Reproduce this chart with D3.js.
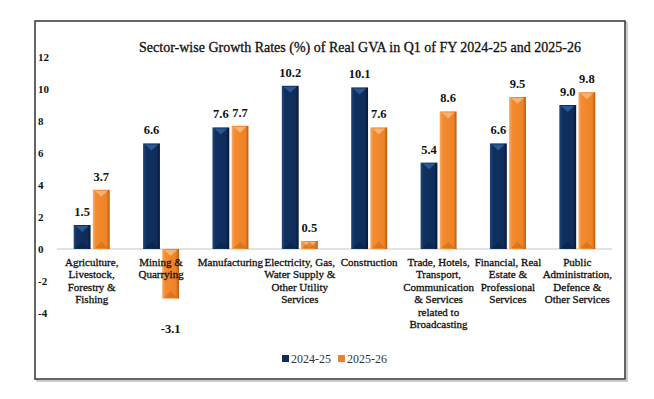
<!DOCTYPE html>
<html>
<head>
<meta charset="utf-8">
<script src="https://cdn.jsdelivr.net/npm/d3@7"></script>
<style>
  body { margin: 0; background: #fff; }
  svg text { font-family: "Liberation Serif", "DejaVu Serif", serif !important; fill: #111; }
</style>
</head>
<body>
<div class="board"></div>
<script>
// sector-wise GVA growth, Q1 FY 2024-25 vs 2025-26

var width = 654;
var height = 399;

// data
var categories = [
  ['Agriculture,', 'Livestock,', 'Forestry &', 'Fishing'],
  ['Mining &', 'Quarrying'],
  ['Manufacturing'],
  ['Electricity, Gas,', 'Water Supply &', 'Other Utility', 'Services'],
  ['Construction'],
  ['Trade, Hotels,', 'Transport,', 'Communication', '& Services', 'related to', 'Broadcasting'],
  ['Financial, Real', 'Estate &', 'Professional', 'Services'],
  ['Public', 'Administration,', 'Defence &', 'Other Services']
];
var series = ['2024-25', '2025-26'];
var fy2425 = [1.5, 6.6, 7.6, 10.2, 10.1, 5.4, 6.6, 9.0];
var fy2526 = [3.7, -3.1, 7.7, 0.5, 7.6, 8.6, 9.5, 9.8];
var yTicks = [-4, -2, 0, 2, 4, 6, 8, 10, 12];

var svg = d3.select('.board').append('svg')
  .attr('width', width)
  .attr('height', height);

var defs = svg.append('defs');

// bevel-ish gradients for the bars
var grads = [
  { id: 'gBlue', stops: ['#24497f', '#10305f', '#0f2d5b', '#061530'] },
  { id: 'gOrange', stops: ['#fbab62', '#f38b30', '#ee8226', '#b35a10'] }
];
grads.forEach(function(g) {
  var lg = defs.append('linearGradient').attr('id', g.id)
    .attr('x1', '0%').attr('x2', '100%').attr('y1', '0%').attr('y2', '0%');
  [0, 0.18, 0.82, 1].forEach(function(o, i) {
    lg.append('stop').attr('offset', o).attr('stop-color', g.stops[i]);
  });
});

// chart frame with a light shadow on right / bottom
svg.append('rect')
  .attr('x', 37).attr('y', 23).attr('width', 590).attr('height', 358)
  .attr('fill', 'none').attr('stroke', '#bdbdbd').attr('stroke-width', 1.5);
svg.append('rect')
  .attr('x', 35).attr('y', 21).attr('width', 590).attr('height', 358)
  .attr('fill', '#fff').attr('stroke', '#333').attr('stroke-width', 1.5);

// title
svg.append('text')
  .attr('x', 360).attr('y', 52)
  .attr('text-anchor', 'middle')
  .style('font-size', '14px')
  .style('stroke', '#111').style('stroke-width', 0.3)
  .text('Sector-wise Growth Rates (%) of Real GVA in Q1 of FY 2024-25 and 2025-26');

var x0 = d3.scaleBand()
  .domain(d3.range(categories.length))
  .range([57, 612]);

var x1 = d3.scaleBand()
  .domain(series)
  .range([x0.bandwidth() / 2 - 18, x0.bandwidth() / 2 + 18])
  .paddingInner(0.12);

var y = d3.scaleLinear()
  .domain([-4, 12])
  .range([313, 57]);

// y axis: labels only, no line; plain hyphen for negatives
var yAxis = d3.axisLeft(y).tickValues(yTicks).tickSize(0).tickPadding(0)
  .tickFormat(function(d) { return String(d); });
var yg = svg.append('g')
  .attr('transform', 'translate(38,0)')
  .call(yAxis);
yg.select('.domain').remove();
yg.selectAll('text')
  .attr('text-anchor', 'start')
  .attr('x', 0)
  .style('font-size', '11px')
  .style('font-weight', 'bold');

// zero line
svg.append('line')
  .attr('x1', 57).attr('x2', 612)
  .attr('y1', y(0)).attr('y2', y(0))
  .attr('stroke', '#d9d9d9').attr('stroke-width', 1.5);

var rows = categories.map(function(c, i) {
  return { i: i, values: [
    { s: series[0], v: fy2425[i], fill: 'url(#gBlue)', tip: '#3566a8', base: '#0a2043' },
    { s: series[1], v: fy2526[i], fill: 'url(#gOrange)', tip: '#fcc088', base: '#c96a18' }
  ] };
});

var groups = svg.selectAll('g.group')
  .data(rows)
  .enter().append('g')
  .attr('class', 'group')
  .attr('transform', function(d) { return 'translate(' + x0(d.i) + ',0)'; });

var bars = groups.selectAll('g.bar')
  .data(function(d) { return d.values; })
  .enter().append('g')
  .attr('class', 'bar');

bars.append('rect')
  .attr('x', function(d) { return x1(d.s); })
  .attr('y', function(d) { return y(Math.max(0, d.v)); })
  .attr('width', x1.bandwidth())
  .attr('height', function(d) { return Math.abs(y(d.v) - y(0)); })
  .attr('fill', function(d) { return d.fill; });

// little bevel triangles at the ends of each bar
bars.append('path')
  .attr('d', function(d) {
    var l = x1(d.s) + 2, r = x1(d.s) + x1.bandwidth() - 2;
    var t = y(Math.max(0, d.v)) + 1;
    var m = (l + r) / 2;
    return 'M' + l + ',' + t + 'L' + r + ',' + t + 'L' + m + ',' + (t + 6) + 'Z';
  })
  .attr('fill', function(d) { return d.tip; })
  .attr('opacity', 0.75);
bars.append('path')
  .attr('d', function(d) {
    var l = x1(d.s) + 2, r = x1(d.s) + x1.bandwidth() - 2;
    var b = y(Math.min(0, d.v)) - 1;
    var m = (l + r) / 2;
    return 'M' + l + ',' + b + 'L' + r + ',' + b + 'L' + m + ',' + (b - 6) + 'Z';
  })
  .attr('fill', function(d) { return d.base; })
  .attr('opacity', 0.6);

// value labels (hyphen for the negative one, as in the source)
bars.append('text')
  .attr('x', function(d) { return x1(d.s) + x1.bandwidth() / 2; })
  .attr('y', function(d) { return d.v >= 0 ? y(d.v) - 9 : y(d.v) + 34; })
  .attr('text-anchor', 'middle')
  .style('font-size', '12.5px')
  .style('font-weight', 'bold')
  .text(function(d) { return d.v.toFixed(1); });

// category labels (multi-line)
var cat = groups.append('text')
  .attr('text-anchor', 'middle')
  .attr('y', 266)
  .style('font-size', '11px')
  .style('stroke', '#111').style('stroke-width', 0.3);
cat.selectAll('tspan')
  .data(function(d) { return categories[d.i]; })
  .enter().append('tspan')
  .attr('x', x0.bandwidth() / 2)
  .attr('dy', function(d, i) { return i === 0 ? 0 : 12.4; })
  .text(function(d) { return d; });

// legend
var legend = svg.selectAll('g.legend')
  .data([
    { name: series[0], c: '#0f2d5b', x: 282 },
    { name: series[1], c: '#ee8226', x: 338 }
  ])
  .enter().append('g')
  .attr('class', 'legend')
  .attr('transform', function(d) { return 'translate(' + d.x + ',355)'; });
legend.append('rect')
  .attr('width', 7).attr('height', 7)
  .attr('fill', function(d) { return d.c; });
legend.append('text')
  .attr('x', 9).attr('y', 7.5)
  .style('font-size', '12px')
  .style('fill', '#333')
  .text(function(d) { return d.name; });
</script>
</body>
</html>
